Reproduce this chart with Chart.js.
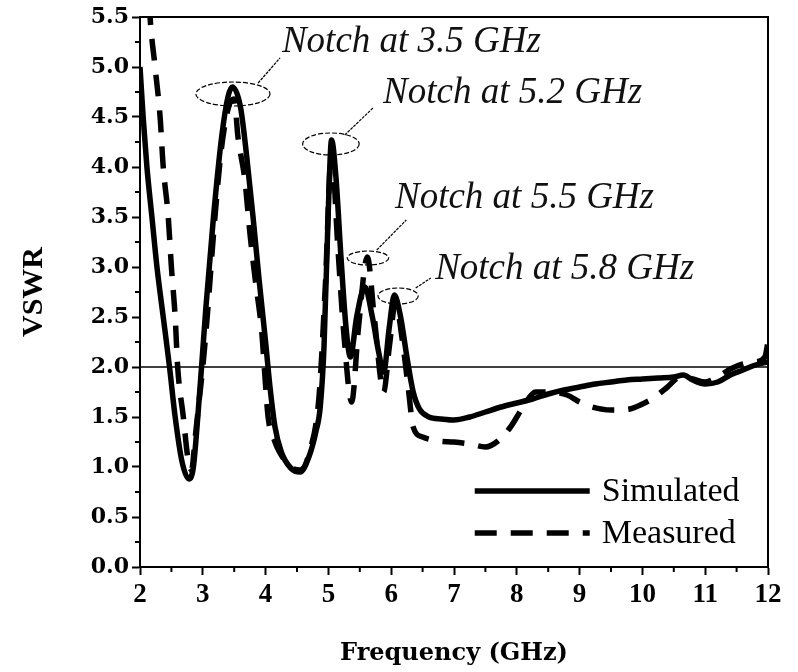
<!DOCTYPE html>
<html>
<head>
<meta charset="utf-8">
<script src="https://cdn.jsdelivr.net/npm/chart.js@4.4.0/dist/chart.umd.min.js"></script>
<style>
  body { margin: 0; background: #fff; }
  canvas { display: block; }
</style>
</head>
<body>
<canvas id="chart" width="798" height="672"></canvas>
<script>
// frequency (GHz) / VSWR
const simFreq = [2.0, 2.05, 2.11, 2.19, 2.27, 2.37, 2.47, 2.56, 2.67, 2.78, 2.85, 2.92, 2.98, 3.05, 3.17, 3.3, 3.4, 3.47,
  3.6, 3.7, 3.8, 3.9, 4.0, 4.07, 4.15, 4.25, 4.4, 4.55, 4.7, 4.8, 4.87, 4.93, 5.0, 5.05, 5.12, 5.2, 5.28, 5.35,
  5.45, 5.58, 5.7, 5.8, 5.88, 5.97, 6.05, 6.15, 6.25, 6.35, 6.45, 6.6, 6.8, 7.0, 7.25, 7.5, 7.75, 8.0, 8.25, 8.5,
  8.75, 9.0, 9.25, 9.5, 9.75, 10.0, 10.25, 10.5, 10.65, 10.8, 11.0, 11.2, 11.4, 11.6, 11.8, 12.0];
const simVswr = [5.0, 4.5, 4.0, 3.5, 3.0, 2.5, 2.0, 1.5, 1.05, 0.88, 1.0, 1.5, 2.0, 2.6, 3.5, 4.3, 4.7, 4.8,
  4.6, 4.1, 3.5, 2.85, 2.25, 1.8, 1.4, 1.15, 0.99, 0.95, 1.12, 1.35, 1.6, 2.2, 3.6, 4.27, 3.9, 3.1, 2.4, 2.1,
  2.5, 2.8, 2.5, 2.15, 1.95, 2.4, 2.72, 2.5, 2.1, 1.75, 1.58, 1.5, 1.48, 1.47, 1.5, 1.55, 1.6, 1.64, 1.68, 1.73,
  1.77, 1.8, 1.83, 1.85, 1.87, 1.88, 1.89, 1.9, 1.92, 1.87, 1.83, 1.85, 1.92, 1.97, 2.02, 2.05];

const measFreq = [2.12, 2.16, 2.24, 2.32, 2.37, 2.45, 2.5, 2.56, 2.6, 2.69, 2.76, 2.82, 2.88, 2.93, 3.0, 3.07, 3.18,
  3.3, 3.42, 3.5, 3.56, 3.67, 3.75, 3.83, 3.94, 3.99, 4.04, 4.15, 4.22, 4.4, 4.55, 4.7, 4.85, 4.95, 5.05, 5.15,
  5.25, 5.37, 5.48, 5.62, 5.73, 5.88, 5.97, 6.07, 6.17, 6.27, 6.35, 6.5, 6.75, 7.0, 7.25, 7.5, 7.7, 7.9, 8.1,
  8.3, 8.5, 8.8, 9.0, 9.2, 9.5, 9.8, 10.0, 10.2, 10.4, 10.6, 10.8, 11.0, 11.2, 11.4, 11.6, 11.8, 11.95, 12.0];
const measVswr = [6.0, 5.5, 5.0, 4.5, 4.0, 3.5, 3.0, 2.5, 2.0, 1.5, 1.1, 0.97, 1.3, 1.6, 2.0, 2.5, 3.4,
  4.2, 4.62, 4.68, 4.3, 3.87, 3.34, 2.9, 2.34, 1.9, 1.5, 1.25, 1.15, 1.0, 0.97, 1.15, 1.7, 2.8, 4.15, 3.2,
  2.3, 1.65, 2.4, 3.1, 2.5, 1.75, 2.2, 2.65, 2.3, 1.8, 1.4, 1.3, 1.26, 1.25, 1.23, 1.2, 1.26, 1.4, 1.6,
  1.75, 1.75, 1.72, 1.65, 1.6, 1.57, 1.58, 1.63, 1.7, 1.8, 1.9, 1.88, 1.85, 1.9, 1.98, 2.03, 2.05, 2.1, 2.25];

const seriesNames = ['Simulated', 'Measured'];
const notchLabels = ['Notch at 3.5 GHz', 'Notch at 5.2 GHz', 'Notch at 5.5 GHz', 'Notch at 5.8 GHz'];

// annotation placement, in axis units
const notchMarks = [
  { cx: 3.48, cy: 4.73, rx: 0.59, ry: 0.12, line: [3.88, 4.84, 4.23, 5.09], tx: 4.26, ty: 5.25 },
  { cx: 5.04, cy: 4.23, rx: 0.45, ry: 0.11, line: [5.26, 4.32, 5.71, 4.59], tx: 5.87, ty: 4.74 },
  { cx: 5.63, cy: 3.09, rx: 0.33, ry: 0.07, line: [5.77, 3.17, 6.24, 3.47], tx: 6.06, ty: 3.69 },
  { cx: 6.11, cy: 2.71, rx: 0.32, ry: 0.08, line: [6.39, 2.79, 6.63, 2.89], tx: 6.70, ty: 2.98 }
];

const toPoints = (xs, ys) => xs.map((x, i) => ({ x: x, y: ys[i] }));

const decor = {
  id: 'decor',
  afterDatasetsDraw(chart) {
    const { ctx, chartArea: a, scales: { x, y } } = chart;
    ctx.save();

    // VSWR = 2 reference line
    ctx.strokeStyle = '#000';
    ctx.lineWidth = 1.5;
    ctx.beginPath();
    ctx.moveTo(a.left, y.getPixelForValue(2));
    ctx.lineTo(a.right, y.getPixelForValue(2));
    ctx.stroke();

    // frame
    ctx.lineWidth = 2;
    ctx.strokeRect(a.left, a.top, a.right - a.left, a.bottom - a.top);

    // minor ticks
    ctx.beginPath();
    for (let v = 2.5; v < 12; v += 1) {
      const px = x.getPixelForValue(v);
      ctx.moveTo(px, a.bottom);
      ctx.lineTo(px, a.bottom + 5);
    }
    for (let v = 0.25; v < 5.5; v += 0.5) {
      const py = y.getPixelForValue(v);
      ctx.moveTo(a.left, py);
      ctx.lineTo(a.left - 5, py);
    }
    ctx.stroke();

    // notch ellipses, leaders and labels
    ctx.lineWidth = 1.2;
    ctx.fillStyle = '#111';
    ctx.font = 'italic 37px "Liberation Serif"';
    ctx.textBaseline = 'middle';
    notchMarks.forEach((m, i) => {
      const cx = x.getPixelForValue(m.cx), cy = y.getPixelForValue(m.cy);
      const rx = x.getPixelForValue(m.cx + m.rx) - cx;
      const ry = cy - y.getPixelForValue(m.cy + m.ry);
      ctx.setLineDash([5, 2]);
      ctx.beginPath();
      ctx.ellipse(cx, cy, rx, ry, 0, 0, Math.PI * 2);
      ctx.stroke();
      ctx.setLineDash([3, 1]);
      ctx.beginPath();
      ctx.moveTo(x.getPixelForValue(m.line[0]), y.getPixelForValue(m.line[1]));
      ctx.lineTo(x.getPixelForValue(m.line[2]), y.getPixelForValue(m.line[3]));
      ctx.stroke();
      ctx.setLineDash([]);
      ctx.fillText(notchLabels[i], x.getPixelForValue(m.tx), y.getPixelForValue(m.ty));
    });

    // legend, bottom right inside the plot
    const lx = x.getPixelForValue(7.33), ly = y.getPixelForValue(0.76);
    ctx.font = '34px "Liberation Serif"';
    chart.data.datasets.forEach((ds, i) => {
      const yy = ly + i * 42;
      ctx.strokeStyle = ds.borderColor;
      ctx.lineWidth = ds.borderWidth;
      ctx.setLineDash(ds.borderDash || []);
      ctx.beginPath();
      ctx.moveTo(lx, yy);
      ctx.lineTo(lx + 115, yy);
      ctx.stroke();
      ctx.setLineDash([]);
      ctx.fillStyle = '#000';
      ctx.fillText(ds.label, lx + 127, yy + 1);
    });

    ctx.restore();
  }
};

const ctx = document.querySelector('#chart').getContext('2d');
const chart = new Chart(ctx, {
  type: 'line',
  data: {
    datasets: [{
      label: seriesNames[0],
      data: toPoints(simFreq, simVswr),
      borderColor: '#000',
      borderWidth: 5.5,
      pointRadius: 0,
      cubicInterpolationMode: 'monotone'
    }, {
      label: seriesNames[1],
      data: toPoints(measFreq, measVswr),
      borderColor: '#000',
      borderWidth: 5.5,
      borderDash: [22, 14],
      pointRadius: 0,
      cubicInterpolationMode: 'monotone'
    }]
  },
  options: {
    responsive: false,
    animation: false,
    layout: { padding: { top: 17, right: 30, left: 0, bottom: 0 } },
    scales: {
      x: {
        type: 'linear',
        min: 2,
        max: 12,
        ticks: {
          stepSize: 1,
          color: '#000',
          padding: 4,
          font: { family: 'Liberation Serif', weight: 'bold', size: 27 }
        },
        grid: { drawOnChartArea: false, tickLength: 8, tickWidth: 2, tickColor: '#000' },
        border: { color: '#000', width: 2 },
        title: {
          display: true,
          text: 'Frequency (GHz)',
          color: '#000',
          padding: { top: 0, bottom: 4 },
          font: { family: 'DejaVu Serif', weight: 'bold', size: 24 }
        },
        afterFit(s) { s.height = 105; }
      },
      y: {
        min: 0,
        max: 5.5,
        ticks: {
          stepSize: 0.5,
          color: '#000',
          padding: 3,
          font: { family: 'DejaVu Serif', weight: 'bold', size: 22 },
          callback: v => v.toFixed(1)
        },
        grid: { drawOnChartArea: false, tickLength: 8, tickWidth: 2, tickColor: '#000' },
        border: { color: '#000', width: 2 },
        title: {
          display: true,
          text: 'VSWR',
          color: '#000',
          padding: { top: 16, bottom: 0 },
          font: { family: 'Liberation Serif', weight: 'bold', size: 30 }
        },
        afterFit(s) { s.width = 140; }
      }
    },
    plugins: {
      legend: { display: false },
      tooltip: { enabled: false }
    }
  },
  plugins: [decor]
});
</script>
</body>
</html>
